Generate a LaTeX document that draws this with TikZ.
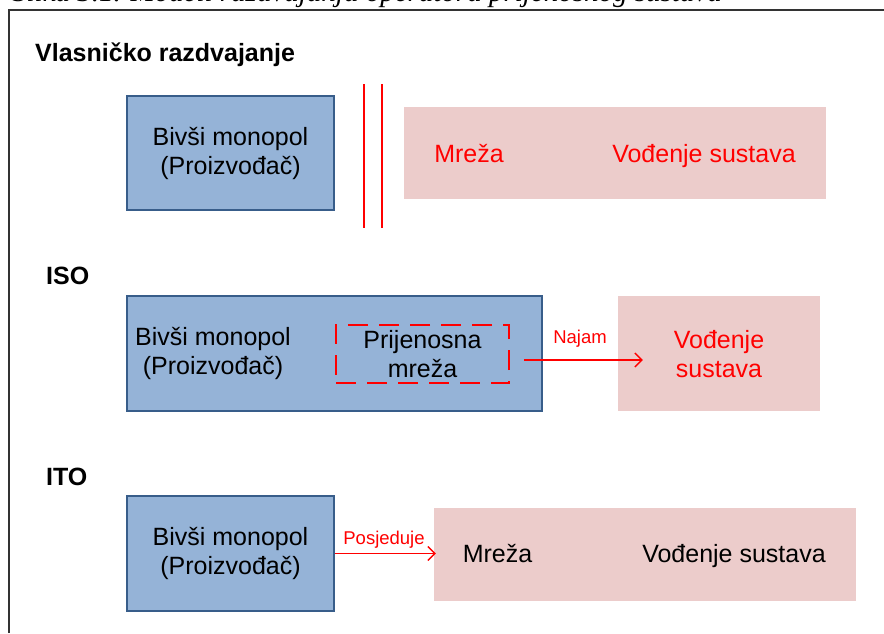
\documentclass[tikz,border=0pt]{standalone}
\usepackage{fontspec}
\setmainfont{Liberation Sans}
\newfontfamily\captfont{Liberation Serif}
\usetikzlibrary{arrows.meta}

\definecolor{monoblue}{RGB}{149,179,215}
\definecolor{monoedge}{RGB}{56,93,138}
\definecolor{netpink}{RGB}{236,204,203}

\begin{document}
\begin{tikzpicture}[x=1pt,y=-1pt,
    mono/.style={draw=monoedge,line width=1.5pt,fill=monoblue,inner sep=0pt,
      align=center,font=\fontsize{25}{29}\selectfont},
    net/.style={fill=netpink,inner sep=0pt},
    txt/.style={inner sep=0pt,align=center,font=\fontsize{25}{29}\selectfont},
    head/.style={anchor=base west,inner sep=0pt,font=\bfseries\fontsize{25}{29}\selectfont},
    lbl/.style={inner sep=0pt,text=red,font=\fontsize{18.5}{22}\selectfont},
    arr/.style={red,line width=1.3pt,-{Straight Barb[length=7pt,width=14pt]}}]
    \useasboundingbox (0,0) rectangle (884,633);
    \begin{scope}
    \clip (0,0) rectangle (884,9);
    \node[anchor=base east,inner sep=0pt,font=\captfont\itshape\fontsize{29}{32}\selectfont] (caption) at (722,1.5)
      {Slika 3.1. Modeli razdvajanja operatora prijenosnog sustava};
    \end{scope}
    \draw[line width=1.5pt,black!80] (9,633)--(9,10)--(884,10);

    \node[head] (vlasnicko) at (35,61) {Vlasničko razdvajanje};
    \node[mono,minimum width=207pt,minimum height=114pt] (bivsiA) at (230.5,153)
      {Bivši monopol\\(Proizvođač)};
    \foreach \x in {363.5,381.5}
    \draw[red,line width=2pt] (\x,84)--(\x,228);
    \node[net,minimum width=422pt,minimum height=92pt] (mrezaA) at (615,153) {};
    \node[txt,text=red,anchor=base] (mrezaAtxt) at (469,162) {Mreža};
    \node[txt,text=red,anchor=base] (vodjenjeAtxt) at (704,162) {Vođenje sustava};

    \node[head] (iso) at (46,284) {ISO};
    \node[mono,minimum width=415pt,minimum height=115pt] (bivsiB) at (334.5,353.5) {};
    \node[txt] (bivsiBtxt) at (213,353) {Bivši monopol\\(Proizvođač)};
    \node[draw=red,line width=2pt,dash pattern=on 20pt off 11pt,txt,
      minimum width=173pt,minimum height=58pt] (prijenosna) at (422.5,354) {Prijenosna\\mreža};
    \node[net,minimum width=202pt,minimum height=115pt] (vodjenjeB) at (719,353.5) {};
    \node[txt,text=red] (vodjenjeBtxt) at (719,354) {Vođenje\\sustava};
    \coordinate (najamS) at ([xshift=14pt,yshift=-6pt]prijenosna.east);
    \draw[arr] (najamS)--([xshift=25pt]najamS -| vodjenjeB.west);
    \node[lbl] (najam) at (580,339) {Najam};

    \node[head] (ito) at (46,485) {ITO};
    \node[mono,minimum width=207pt,minimum height=115pt] (bivsiC) at (230.5,553.5)
      {Bivši monopol\\(Proizvođač)};
    \node[net,minimum width=422pt,minimum height=93pt] (mrezaC) at (645,554.5) {};
    \node[txt,anchor=base] (mrezaCtxt) at (497.5,562) {Mreža};
    \node[txt,anchor=base] (vodjenjeCtxt) at (734,562) {Vođenje sustava};
    \draw[arr] (bivsiC.east)--([xshift=2pt]bivsiC.east -| mrezaC.west);
    \node[lbl] (posjeduje) at (384,540) {Posjeduje};
  \end{tikzpicture}
\end{document}
